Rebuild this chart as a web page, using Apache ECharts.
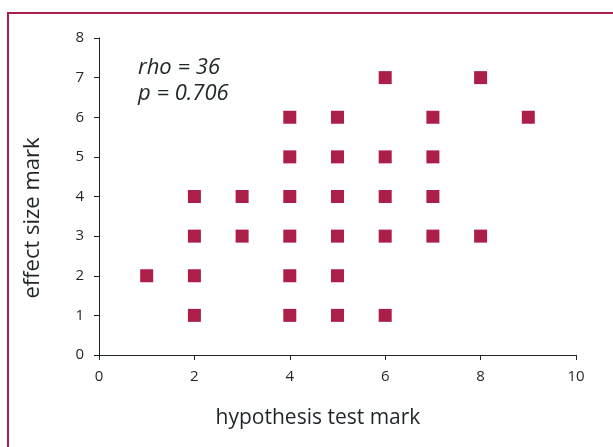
<!DOCTYPE html>
<html>
<head>
<meta charset="utf-8">
<script src="https://cdn.jsdelivr.net/npm/echarts@6/dist/echarts.min.js"></script>
<style>
  html, body { margin: 0; padding: 0; background: #fff; }
  #chart { width: 613px; height: 447px; }
</style>
</head>
<body>
<div id="chart"></div>
<script>
// hypothesis test mark vs effect size mark
const hypMarks = [1, 2, 2, 2, 2, 3, 3, 4, 4, 4, 4, 4, 4, 5, 5, 5, 5, 5, 5, 6, 6, 6, 6, 6, 7, 7, 7, 7, 8, 8, 9]
const effMarks = [2, 1, 2, 3, 4, 3, 4, 1, 2, 3, 4, 5, 6, 1, 2, 3, 4, 5, 6, 1, 3, 4, 5, 7, 3, 4, 5, 6, 3, 7, 6]
const statLines = ['rho = 36', 'p = 0.706']
const xTitle = 'hypothesis test mark'
const yTitle = 'effect size mark'

const red = '#ab1f48'
const ink = '#1f2628'
const font = '"Open Sans", "Noto Sans", sans-serif'

const chart = echarts.init(document.getElementById('chart'))

const points = hypMarks.map((x, i) => [x, effMarks[i]])

chart.setOption({
  animation: false,
  textStyle: { fontFamily: font, color: ink },
  grid: { left: 99, top: 38, right: 37, bottom: 92 },
  xAxis: {
    type: 'value',
    min: 0,
    max: 10,
    interval: 2,
    axisLine: { lineStyle: { color: ink, width: 1 } },
    axisTick: { show: true, length: 5, lineStyle: { color: ink } },
    axisLabel: { color: ink, fontSize: 15, margin: 14, fontFamily: font },
    splitLine: { show: false }
  },
  yAxis: {
    type: 'value',
    min: 0,
    max: 8,
    interval: 1,
    axisLine: { show: true, lineStyle: { color: ink, width: 1 } },
    axisTick: { show: true, length: 5, lineStyle: { color: ink } },
    axisLabel: { color: ink, fontSize: 15, margin: 15, fontFamily: font },
    splitLine: { show: false }
  },
  graphic: [
    {
      type: 'rect',
      shape: { x: 8, y: 13, width: 700, height: 600 },
      style: { fill: 'none', stroke: red, lineWidth: 2 },
      silent: true
    },
    {
      type: 'text',
      x: 138,
      y: 55,
      style: {
        text: statLines.join('\n'),
        font: 'italic 22px ' + font,
        fill: ink,
        lineHeight: 26
      }
    },
    {
      type: 'text',
      x: 318,
      y: 418,
      style: {
        text: xTitle,
        font: '21px ' + font,
        fill: ink,
        align: 'center',
        verticalAlign: 'middle'
      }
    },
    {
      type: 'text',
      x: 33,
      y: 218,
      rotation: Math.PI / 2,
      style: {
        text: yTitle,
        font: '22px ' + font,
        fill: ink,
        align: 'center',
        verticalAlign: 'middle'
      }
    }
  ],
  series: [
    {
      type: 'scatter',
      symbol: 'rect',
      symbolSize: 13,
      itemStyle: { color: red, opacity: 1 },
      data: points
    }
  ]
})
</script>
</body>
</html>
